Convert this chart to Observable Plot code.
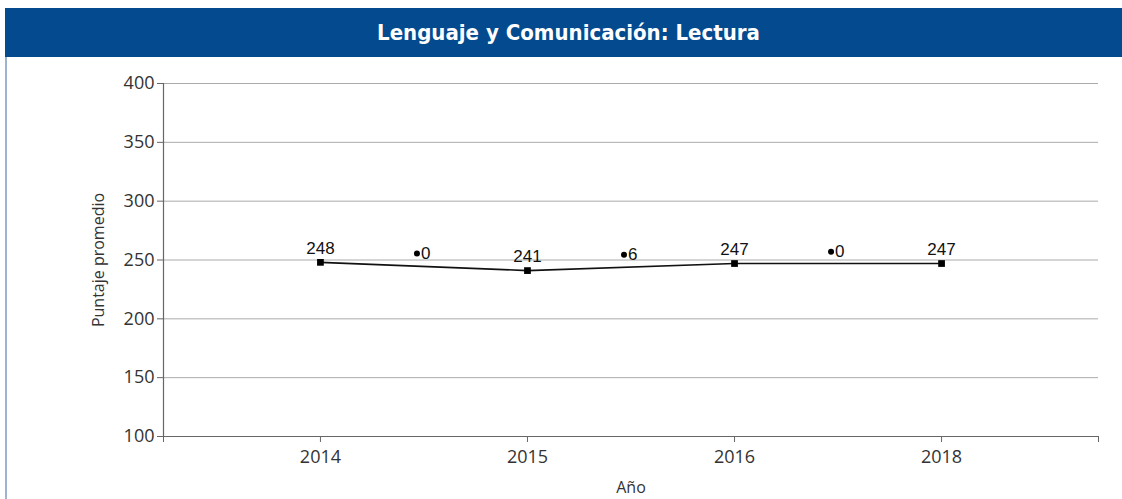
<!DOCTYPE html>
<html>
<head>
<meta charset="utf-8">
<script src="https://cdn.jsdelivr.net/npm/d3@7"></script>
<script src="https://cdn.jsdelivr.net/npm/@observablehq/plot@0.6"></script>
<style>
  html, body { margin: 0; padding: 0; background: #fff; }
  #page { position: relative; width: 1122px; height: 499px; overflow: hidden; }
  #title {
    position: absolute; left: 5px; top: 8px; width: 1117px; height: 49px;
    background: #034a8e; color: #fff;
    font-family: "DejaVu Sans Condensed", "Liberation Sans Narrow", sans-serif;
    font-weight: bold; font-size: 22px; line-height: 49px; text-align: center;
    text-indent: 10px;
  }
  #leftline { position: absolute; left: 5px; top: 57px; width: 2px; height: 442px; background: #9fb3d1; }
  #chart { position: absolute; left: 0; top: 57px; }
</style>
</head>
<body>
<div id="page">
  <div id="title">Lenguaje y Comunicación: Lectura</div>
  <div id="leftline"></div>
  <div id="chart"></div>
</div>
<script>
// Data
const years = ["2014", "2015", "2016", "2018"];
const scores = [248, 241, 247, 247];
const diffLabels = ["0", "6", "0"];
const diffY = [255.5, 254.5, 257];
const yTicks = [100, 150, 200, 250, 300, 350, 400];

const pts = years.map((y, i) => ({i, year: y, score: scores[i]}));
const diffs = diffLabels.map((d, i) => ({x: i + 0.5, y: diffY[i], label: d}));

const pad = 0.758;
const xDomain = [-pad, years.length - 1 + pad];
const xTicks = [xDomain[0], ...years.map((_, i) => i), xDomain[1]];

const tickFont = '"Open Sans", sans-serif';
const labelFont = '"Liberation Sans", Arial, sans-serif';

const chart = Plot.plot({
  width: 1122,
  height: 442,
  marginLeft: 163,
  marginRight: 24,
  marginTop: 26,
  marginBottom: 63,
  style: {fontFamily: tickFont, fontSize: "16px", color: "#333", background: "transparent"},
  x: {type: "linear", domain: xDomain},
  y: {domain: [100, 400]},
  marks: [
    Plot.gridY(yTicks, {stroke: "#aaa", strokeOpacity: 1, strokeWidth: 1}),
    Plot.axisY(yTicks, {tickSize: 6, tickPadding: 3, stroke: "#666", fill: "#333", fontSize: 18, label: null}),
    Plot.axisX(xTicks, {tickSize: 6, tickPadding: 8, stroke: "#666", fill: "#333", fontSize: 18, label: null,
      tickFormat: d => Number.isInteger(d) ? years[d] : ""}),
    Plot.ruleX([xDomain[0]], {stroke: "#666", strokeWidth: 1.2}),
    Plot.ruleY([100], {stroke: "#666", strokeWidth: 1.2}),
    Plot.line(pts, {x: "i", y: "score", stroke: "#111", strokeWidth: 1.6}),
    Plot.dot(pts, {x: "i", y: "score", symbol: "square", r: 3.8, fill: "#000", stroke: "none"}),
    Plot.text(pts, {x: "i", y: "score", text: d => String(d.score), dy: -14,
      fontFamily: labelFont, fontSize: 17, fill: "#111"}),
    Plot.dot(diffs, {x: "x", y: "y", r: 3, dx: -7, fill: "#000", stroke: "none"}),
    Plot.text(diffs, {x: "x", y: "y", text: "label", dx: -3, textAnchor: "start",
      fontFamily: labelFont, fontSize: 17, fill: "#111"}),
    Plot.text(["Puntaje promedio"], {frameAnchor: "left", textAnchor: "middle", dx: -65, rotate: -90, text: d => d,
      fontFamily: tickFont, fontSize: 16, fill: "#333"}),
    Plot.text(["Año"], {frameAnchor: "bottom", dy: 56, text: d => d,
      fontFamily: tickFont, fontSize: 16, fill: "#333"})
  ]
});
document.getElementById("chart").appendChild(chart);
</script>
</body>
</html>
